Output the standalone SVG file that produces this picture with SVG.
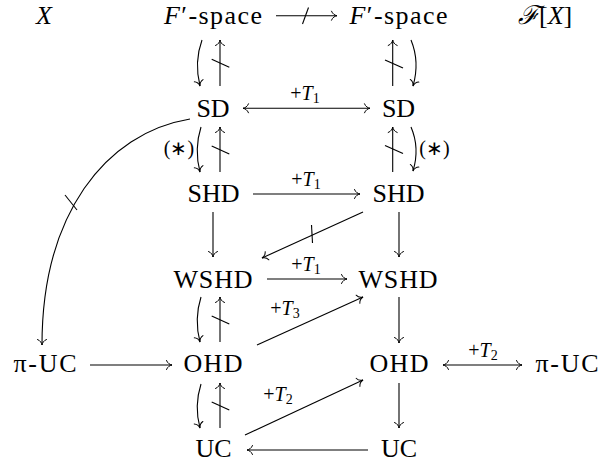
<svg xmlns="http://www.w3.org/2000/svg" width="600" height="464" viewBox="0 0 600 464">
<defs>
<marker id="ah" viewBox="-7 -6 9 12" markerWidth="9" markerHeight="12" refX="0" refY="0" orient="auto-start-reverse" markerUnits="userSpaceOnUse">
<path d="M-5.5,-4.5 C-4.5,-1.6 -1.8,-0.3 0,0 C-1.8,0.3 -4.5,1.6 -5.5,4.5" fill="none" stroke="#000" stroke-width="1" stroke-linecap="round"/>
</marker>
</defs>
<rect width="600" height="464" fill="#fff"/>
<g font-family="Liberation Serif" font-size="26" fill="#000" text-anchor="middle">
<g id="n-X"><text font-family="Liberation Serif" font-style="italic" x="44" y="24">X</text></g>
<g id="n-Fspace1"><text font-family="Liberation Serif" x="213" y="24" textLength="98"><tspan font-style="italic">F</tspan>′-space</text></g>
<g id="n-Fspace2"><text font-family="Liberation Serif" x="398.5" y="24" textLength="98"><tspan font-style="italic">F</tspan>′-space</text></g>
<g id="n-FX"><text font-family="Liberation Serif" text-anchor="start" x="518" y="24"><tspan font-family="DejaVu Serif" font-style="italic">ℱ</tspan>[<tspan font-style="italic">X</tspan>]</text></g>
<g id="n-SD1"><text font-family="Liberation Serif" x="213" y="116.5">SD</text></g>
<g id="n-SD2"><text font-family="Liberation Serif" x="398.5" y="116.5">SD</text></g>
<g id="n-SHD1"><text font-family="Liberation Serif" x="213.5" y="201.5">SHD</text></g>
<g id="n-SHD2"><text font-family="Liberation Serif" x="398.5" y="201.5">SHD</text></g>
<g id="n-WSHD1"><text font-family="Liberation Serif" x="213" y="287.5" textLength="79">WSHD</text></g>
<g id="n-WSHD2"><text font-family="Liberation Serif" x="398" y="287.5" textLength="79">WSHD</text></g>
<g id="n-piUC1"><text font-family="Liberation Serif" x="45" y="372" textLength="63">π-UC</text></g>
<g id="n-OHD1"><text font-family="Liberation Serif" x="213" y="372" textLength="59">OHD</text></g>
<g id="n-OHD2"><text font-family="Liberation Serif" x="399" y="372" textLength="59">OHD</text></g>
<g id="n-piUC2"><text font-family="Liberation Serif" x="567" y="372" textLength="63">π-UC</text></g>
<g id="n-UC1"><text font-family="Liberation Serif" x="213.5" y="456.5">UC</text></g>
<g id="n-UC2"><text font-family="Liberation Serif" x="399" y="456.5">UC</text></g>
</g>

<g id="connectors" fill="none" stroke="#000" stroke-width="1.1">
<path marker-end="url(#ah)" d="M276,15.7 H337"/>
<path d="M302.5,24 L308.5,7.5"/>
<path marker-start="url(#ah)" marker-end="url(#ah)" d="M243,108.3 H370"/>
<path marker-end="url(#ah)" d="M253,194 H360"/>
<path marker-end="url(#ah)" d="M267,279 H347"/>
<path marker-end="url(#ah)" d="M90,365 H172"/>
<path marker-start="url(#ah)" marker-end="url(#ah)" d="M443,365 H522"/>
<path marker-end="url(#ah)" d="M368,450 H247"/>
<path marker-end="url(#ah)" d="M213,212 V257"/>
<path marker-end="url(#ah)" d="M399,212 V257"/>
<path marker-end="url(#ah)" d="M399,297 V343"/>
<path marker-end="url(#ah)" d="M399,383 V428"/>
<path marker-end="url(#ah)" d="M363,212 L262,258"/>
<path d="M311.5,225 L312.5,243"/>
<path marker-end="url(#ah)" d="M257,345 L363,297"/>
<path marker-end="url(#ah)" d="M245,435 L363,380"/>
<path marker-end="url(#ah)" d="M220,86 V40"/>
<path d="M211.7,59.3 L229.3,67.3"/>
<path marker-end="url(#ah)" d="M202,40 Q194,62 200,86"/>
<path marker-end="url(#ah)" d="M220,172 V127"/>
<path d="M211.7,146 L229.3,154"/>
<path marker-end="url(#ah)" d="M201,127 Q194,149 200,172"/>
<path marker-end="url(#ah)" d="M220,342 V297"/>
<path d="M211.7,316 L229.3,324"/>
<path marker-end="url(#ah)" d="M201,297 Q194,319 200,342"/>
<path marker-end="url(#ah)" d="M220,428 V383"/>
<path d="M211.7,402 L229.3,410"/>
<path marker-end="url(#ah)" d="M201,384 Q194,406 200,428"/>
<path marker-end="url(#ah)" d="M392.7,86 V40"/>
<path d="M385,60 L403,68"/>
<path marker-end="url(#ah)" d="M411,40 Q420,62 413,86"/>
<path marker-end="url(#ah)" d="M392.7,172 V127"/>
<path d="M385,145.5 L403,153.5"/>
<path marker-end="url(#ah)" d="M411,127 Q420,148 413,171"/>
<path marker-end="url(#ah)" d="M190,119 C105,133 42,215 42,345"/>
<path d="M65,195 L77,210"/>
</g>
<g id="labels" font-family="Liberation Serif" font-size="20" fill="#000" text-anchor="middle">
<text font-family="Liberation Serif" x="305" y="100">+<tspan font-style="italic">T</tspan><tspan font-size="14" dy="3">1</tspan></text>
<text font-family="Liberation Serif" x="306" y="185.7">+<tspan font-style="italic">T</tspan><tspan font-size="14" dy="3">1</tspan></text>
<text font-family="Liberation Serif" x="306" y="271">+<tspan font-style="italic">T</tspan><tspan font-size="14" dy="3">1</tspan></text>
<text font-family="Liberation Serif" x="483" y="356.5">+<tspan font-style="italic">T</tspan><tspan font-size="14" dy="3">2</tspan></text>
<text font-family="Liberation Serif" x="285" y="314.5">+<tspan font-style="italic">T</tspan><tspan font-size="14" dy="3">3</tspan></text>
<text font-family="Liberation Serif" x="278" y="400.5">+<tspan font-style="italic">T</tspan><tspan font-size="14" dy="3">2</tspan></text>
<text font-family="Liberation Serif" x="179" y="155">(∗)</text>
<text font-family="Liberation Serif" x="434.5" y="155">(∗)</text>
</g>
</svg>
